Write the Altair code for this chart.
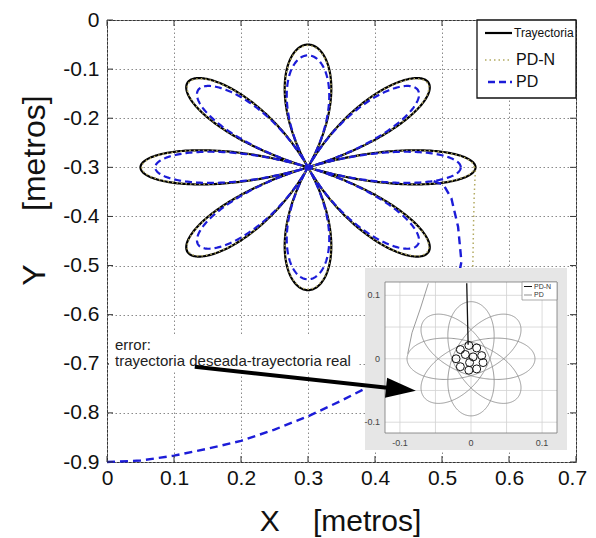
import numpy as np
import pandas as pd
import altair as alt

# ---------------- main axes ----------------
X_TICKS = [0, 0.1, 0.2, 0.3, 0.4, 0.5, 0.6, 0.7]
Y_TICKS = [0, -0.1, -0.2, -0.3, -0.4, -0.5, -0.6, -0.7, -0.8, -0.9]
X_DOMAIN = [0, 0.7]
Y_DOMAIN = [-0.9, 0]

# ---------------- 8-petal trajectory ----------------
ROSE_CENTER = [0.30, -0.30]
PETALS = 8
REACH_TRAY = 0.250
REACH_PDN = 0.248
REACH_PD = 0.228

# PD (blue dashed) start-up path
PD_START_X = [0.0, 0.05, 0.10, 0.15, 0.20, 0.25, 0.30, 0.35, 0.39, 0.43, 0.47,
              0.50, 0.52, 0.529, 0.524, 0.514, 0.502, 0.485]
PD_START_Y = [-0.900, -0.897, -0.887, -0.873, -0.857, -0.834, -0.807, -0.775,
              -0.747, -0.712, -0.668, -0.615, -0.555, -0.492, -0.421, -0.363,
              -0.335, -0.327]
# PD-N (dotted) start-up path
PDN_START_X = [0.545, 0.545, 0.546, 0.547, 0.548, 0.550]
PDN_START_Y = [-0.85, -0.70, -0.50, -0.42, -0.36, -0.30]

# ---------------- inset (error plot) ----------------
INSET_X_DOMAIN = [-0.121, 0.121]
INSET_Y_DOMAIN = [-0.117, 0.121]
INSET_GRID = [-0.1, -0.05, 0, 0.05, 0.1]
INSET_TICKS = [-0.1, 0, 0.1]
INSET_TICK_LABELS = ["-0.1", "0", "0.1"]

PD_ERR_LOBE = 0.090
PD_ERR_GAP = 0.025
PD_ERR_START_X = [-0.060, -0.071, -0.083, -0.089]
PD_ERR_START_Y = [0.119, 0.080, 0.041, 0.008]
PDN_ERR_LINE_X = [-0.006, -0.005, -0.004]
PDN_ERR_LINE_Y = [0.119, 0.070, 0.022]
PDN_LOOP_X = [-0.015, -0.003, 0.008, 0.015, 0.017, 0.008, -0.003, -0.015,
              -0.021, -0.008, 0.003, -0.002]
PDN_LOOP_Y = [0.0145, 0.021, 0.017, 0.005, -0.006, -0.016, -0.018, -0.0125,
              0.0, 0.0067, 0.003, -0.006]

# annotation arrow (data coordinates of main plot)
ARROW_FROM = (0.131, -0.706)
ARROW_SHAFT_END = (0.425, -0.750)
ARROW_TIP = (0.461, -0.755)

FONT = "Liberation Sans"
W, H = 469, 442
BLACK = "#000000"
KHAKI = "#b3aa62"
BLUE = "#1c1cd8"


def rose(reach, n=1440):
    t = np.linspace(0, 2 * np.pi, n + 1)
    r = reach * np.cos(PETALS / 2 * t)
    return pd.DataFrame({"x": ROSE_CENTER[0] + r * np.cos(t),
                         "y": ROSE_CENTER[1] + r * np.sin(t),
                         "i": np.arange(n + 1)})


def path(xs, ys):
    return pd.DataFrame({"x": xs, "y": ys, "i": range(len(xs))})


def pd_error(n=1440):
    t = np.linspace(0, 2 * np.pi, n + 1)
    a = PD_ERR_LOBE * np.cos(PETALS / 2 * t)
    b = PD_ERR_GAP * np.sin(PETALS / 2 * t)
    return pd.DataFrame({"x": a * np.cos(t) - b * np.sin(t),
                         "y": a * np.sin(t) + b * np.cos(t),
                         "i": np.arange(n + 1)})


XS = alt.Scale(domain=X_DOMAIN, nice=False, zero=False)
YS = alt.Scale(domain=Y_DOMAIN, nice=False, zero=False)
XI = alt.Scale(domain=INSET_X_DOMAIN, range=[278, 450], nice=False, zero=False)
YI = alt.Scale(domain=INSET_Y_DOMAIN, range=[413, 262], nice=False, zero=False)

one = pd.DataFrame({"k": [0]})

x_axis = alt.Axis(values=X_TICKS, labelExpr="toString(datum.value)", grid=True,
                  ticks=False, domain=False, labelFlush=False, labelOverlap=False,
                  labelPadding=5, labelFontSize=21, labelColor="#111",
                  labelOffset={"condition": {"test": "datum.value >= 0.7", "value": -4}, "value": 0},
                  title="X\u00a0\u00a0\u00a0\u00a0[metros]", titleFontSize=30,
                  titleFontWeight="normal", titleX=233, titleY=68,
                  titleBaseline="alphabetic", titleAlign="center", titleColor="#111",
                  gridColor="#8a8a8a", gridDash=[1.5, 2.5], gridWidth=1)
y_axis = alt.Axis(values=Y_TICKS, labelExpr="toString(datum.value)", grid=True,
                  ticks=False, domain=False, labelFlush=False, labelOverlap=False,
                  labelPadding=8, labelFontSize=21, labelColor="#111",
                  title="Y\u00a0\u00a0\u00a0\u00a0\u00a0\u00a0[metros]", titleFontSize=32,
                  titleFontWeight="normal", titleAngle=270, titleX=-63, titleY=170,
                  titleBaseline="alphabetic", titleAlign="center", titleColor="#111",
                  gridColor="#8a8a8a", gridDash=[1.5, 2.5], gridWidth=1)


def mxy(axes=False):
    return dict(x=alt.X("x:Q", scale=XS, axis=x_axis if axes else None),
                y=alt.Y("y:Q", scale=YS, axis=y_axis if axes else None))


def ixy():
    return dict(x=alt.X("x:Q", scale=XI, axis=None),
                y=alt.Y("y:Q", scale=YI, axis=None))


layers = []
# main curves
layers.append(alt.Chart(rose(REACH_TRAY)).mark_line(color=BLACK, strokeWidth=2.2)
              .encode(order="i:Q", **mxy(True)))
layers.append(alt.Chart(rose(REACH_PDN)).mark_line(color=KHAKI, strokeWidth=1.5, strokeDash=[1.5, 3])
              .encode(order="i:Q", **mxy()))
layers.append(alt.Chart(path(PDN_START_X, PDN_START_Y)).mark_line(color=KHAKI, strokeWidth=1.5, strokeDash=[1.5, 3])
              .encode(order="i:Q", **mxy()))
layers.append(alt.Chart(rose(REACH_PD)).mark_line(color=BLUE, strokeWidth=2.2, strokeDash=[7, 4])
              .encode(order="i:Q", **mxy()))
layers.append(alt.Chart(path(PD_START_X, PD_START_Y)).mark_line(color=BLUE, strokeWidth=2.4, strokeDash=[8, 5])
              .encode(order="i:Q", **mxy()))

# inward tick marks
xt = pd.DataFrame({"x": X_TICKS})
yt = pd.DataFrame({"y": Y_TICKS})
for y0, y1 in [(H, H - 6), (0, 6)]:
    layers.append(alt.Chart(xt).mark_rule(color="#333", strokeWidth=1).encode(
        x=alt.X("x:Q", scale=XS, axis=None), y=alt.value(y0), y2=alt.value(y1)))
for x0, x1 in [(0, 6), (W, W - 6)]:
    layers.append(alt.Chart(yt).mark_rule(color="#333", strokeWidth=1).encode(
        y=alt.Y("y:Q", scale=YS, axis=None), x=alt.value(x0), x2=alt.value(x1)))

# annotation text
layers.append(alt.Chart(one).mark_rect(fill="white").encode(
    x=alt.value(2), x2=alt.value(250), y=alt.value(314), y2=alt.value(351)))
layers.append(alt.Chart(one).mark_text(align="left", baseline="alphabetic", font=FONT,
                                       fontSize=15, color="#222").encode(
    x=alt.value(8), y=alt.value(329.5), text=alt.value("error:")))
layers.append(alt.Chart(one).mark_text(align="left", baseline="alphabetic", font=FONT,
                                       fontSize=15, color="#222").encode(
    x=alt.value(8), y=alt.value(346), text=alt.value("trayectoria deseada-trayectoria real")))

# inset panel
layers.append(alt.Chart(one).mark_rect(fill="#e6e6e6").encode(
    x=alt.value(258), x2=alt.value(460), y=alt.value(248), y2=alt.value(430)))
layers.append(alt.Chart(one).mark_rect(fill="white").encode(
    x=alt.value(278), x2=alt.value(450), y=alt.value(262), y2=alt.value(413)))
ig = pd.DataFrame({"v": INSET_GRID})
layers.append(alt.Chart(ig).mark_rule(color="#d2d2d2", strokeWidth=0.8).encode(
    x=alt.X("v:Q", scale=XI, axis=None), y=alt.value(262), y2=alt.value(413)))
layers.append(alt.Chart(ig).mark_rule(color="#d2d2d2", strokeWidth=0.8).encode(
    y=alt.Y("v:Q", scale=YI, axis=None), x=alt.value(278), x2=alt.value(450)))
layers.append(alt.Chart(one).mark_rect(fill=None, stroke="#777", strokeWidth=0.8).encode(
    x=alt.value(278), x2=alt.value(450), y=alt.value(262), y2=alt.value(413)))

layers.append(alt.Chart(pd_error()).mark_line(color="#8f8f8f", strokeWidth=0.9)
              .encode(order="i:Q", **ixy()))
layers.append(alt.Chart(path(PD_ERR_START_X, PD_ERR_START_Y)).mark_line(color="#8f8f8f", strokeWidth=0.9)
              .encode(order="i:Q", **ixy()))
layers.append(alt.Chart(path(PDN_ERR_LINE_X, PDN_ERR_LINE_Y)).mark_line(color="#111", strokeWidth=1.3)
              .encode(order="i:Q", **ixy()))
layers.append(alt.Chart(pd.DataFrame({"x": PDN_LOOP_X, "y": PDN_LOOP_Y}))
              .mark_point(shape="circle", filled=False, color="#111", strokeWidth=1, size=64, opacity=1)
              .encode(**ixy()))

itl = pd.DataFrame({"v": INSET_TICKS, "label": INSET_TICK_LABELS})
layers.append(alt.Chart(itl).mark_text(align="center", baseline="middle", font=FONT,
                                       fontSize=9, color="#444").encode(
    x=alt.X("v:Q", scale=XI, axis=None), y=alt.value(423), text="label:N"))
layers.append(alt.Chart(itl).mark_text(align="right", baseline="middle", font=FONT,
                                       fontSize=9, color="#444").encode(
    y=alt.Y("v:Q", scale=YI, axis=None), x=alt.value(273), text="label:N"))

# inset legend
layers.append(alt.Chart(one).mark_rect(fill="white", stroke="#888", strokeWidth=0.7).encode(
    x=alt.value(415), x2=alt.value(450), y=alt.value(262), y2=alt.value(280)))
for yy, col, lab in [(266.5, "#111", "PD-N"), (275, "#8f8f8f", "PD")]:
    layers.append(alt.Chart(one).mark_rule(color=col, strokeWidth=1).encode(
        x=alt.value(417), x2=alt.value(425), y=alt.value(yy)))
    layers.append(alt.Chart(one).mark_text(align="left", baseline="middle", font=FONT,
                                           fontSize=7, color="#333").encode(
        x=alt.value(427), y=alt.value(yy), text=alt.value(lab)))

# arrow
layers.append(alt.Chart(pd.DataFrame({"x": [ARROW_FROM[0]], "y": [ARROW_FROM[1]],
                                      "x2": [ARROW_SHAFT_END[0]], "y2": [ARROW_SHAFT_END[1]]}))
              .mark_rule(color="black", strokeWidth=4).encode(
    x=alt.X("x:Q", scale=XS, axis=None), y=alt.Y("y:Q", scale=YS, axis=None),
    x2="x2:Q", y2="y2:Q"))
layers.append(alt.Chart(pd.DataFrame({"x": [ARROW_TIP[0]], "y": [ARROW_TIP[1]]}))
              .mark_point(shape="M0,0 L-2,-0.67 L-2,0.67 Z", filled=True, color="black",
                          size=900, angle=6, opacity=1, strokeWidth=0)
              .encode(**mxy()))

# main legend
layers.append(alt.Chart(one).mark_rect(fill="white", stroke="#111", strokeWidth=1.3).encode(
    x=alt.value(370), x2=alt.value(469), y=alt.value(0), y2=alt.value(78)))
layers.append(alt.Chart(one).mark_rule(color=BLACK, strokeWidth=2.2).encode(
    x=alt.value(378), x2=alt.value(405), y=alt.value(13)))
layers.append(alt.Chart(one).mark_rule(color=KHAKI, strokeWidth=1.5, strokeDash=[1.5, 3]).encode(
    x=alt.value(378), x2=alt.value(405), y=alt.value(40)))
layers.append(alt.Chart(one).mark_rule(color=BLUE, strokeWidth=2.4, strokeDash=[7, 4]).encode(
    x=alt.value(381), x2=alt.value(405), y=alt.value(62)))
for xx, yy, fs, lab in [(407, 13, 12, "Trayectoria"), (409, 40, 16, "PD-N"), (409, 62, 16, "PD")]:
    layers.append(alt.Chart(one).mark_text(align="left", baseline="middle", font=FONT,
                                           fontSize=fs, color="#111").encode(
        x=alt.value(xx), y=alt.value(yy), text=alt.value(lab)))

chart = (alt.layer(*layers)
         .resolve_scale(x="independent", y="independent")
         .properties(width=W, height=H,
                     autosize=alt.AutoSizeParams(type="none"),
                     padding={"left": 99, "top": 12, "right": 12, "bottom": 76})
         .configure_view(stroke="#333", strokeWidth=1)
         .configure_axis(labelFont=FONT, titleFont=FONT)
         .configure_text(font=FONT))

chart.save("out.html", embed_options={"renderer": "svg", "actions": False})
